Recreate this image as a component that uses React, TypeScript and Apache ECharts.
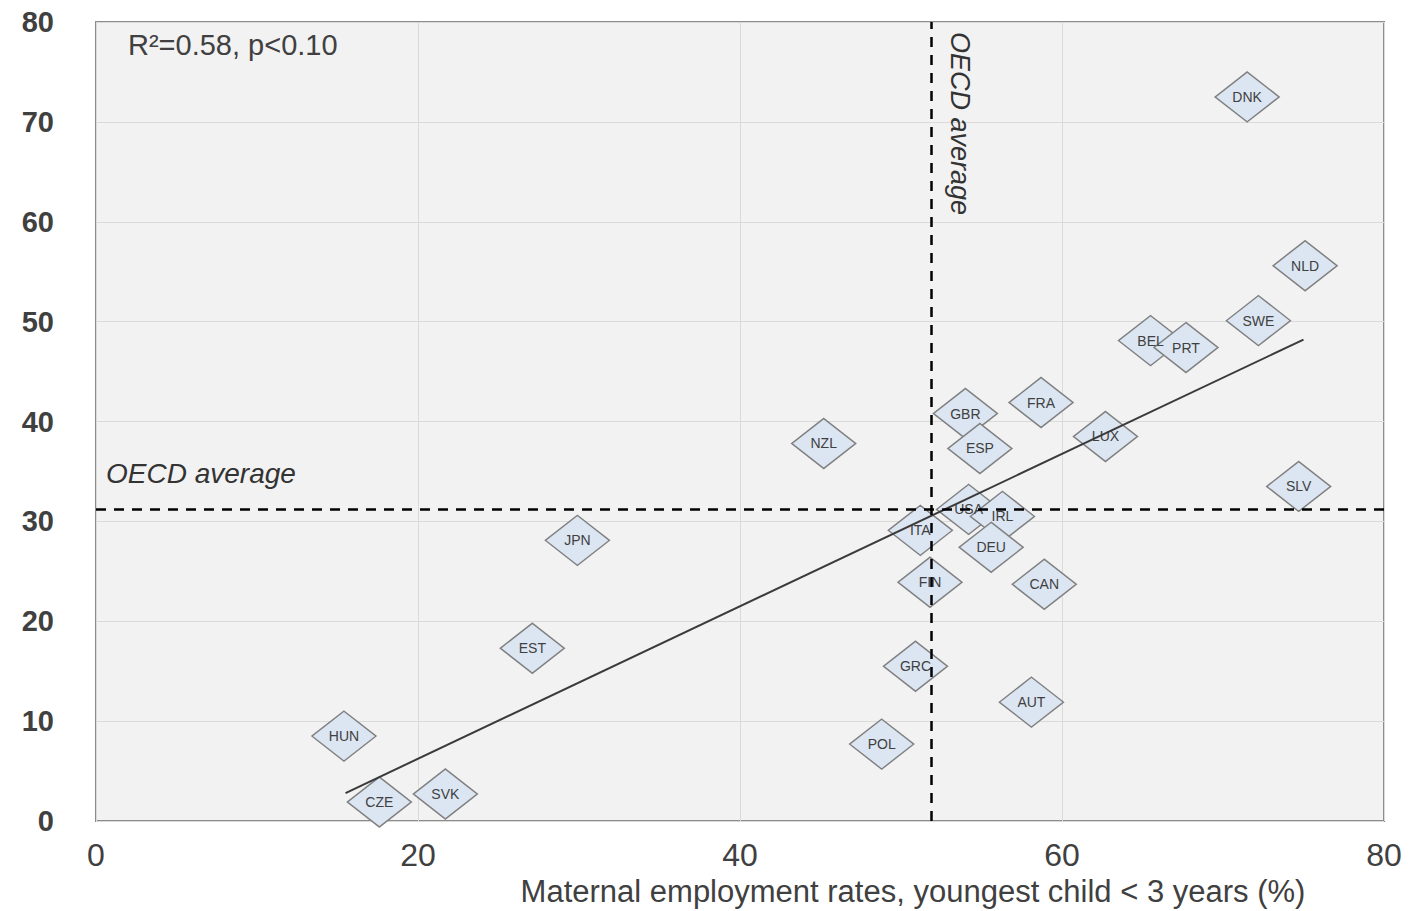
import React, { useEffect, useRef } from "react";
import * as echarts from "echarts";

const countries = ["DNK","NLD","SWE","BEL","PRT","FRA","GBR","ESP","LUX","NZL","SLV","USA","IRL","ITA","DEU","FIN","CAN","JPN","EST","GRC","AUT","POL","HUN","CZE","SVK"];
const employment = [71.5,75.1,72.2,65.5,67.7,58.7,54.0,54.9,62.7,45.2,74.7,54.2,56.3,51.2,55.6,51.8,58.9,29.9,27.1,50.9,58.1,48.8,15.4,17.6,21.7];
const outcome = [72.5,55.6,50.1,48.1,47.4,41.9,40.8,37.3,38.5,37.8,33.5,31.2,30.5,29.1,27.4,23.9,23.7,28.1,17.3,15.5,11.9,7.7,8.5,1.9,2.7];
const trendX = [15.5, 75.0];
const trendY = [2.8, 48.2];
const oecdAvgX = 51.9;
const oecdAvgY = 31.2;
const statText = "R\u00B2=0.58, p<0.10";
const xTitle = "Maternal employment rates, youngest child < 3 years (%)";
const avgLabel = "OECD average";

export default function App() {
  const ref = useRef<HTMLDivElement>(null);
  useEffect(() => {
    document.body.style.margin = "0";
    if (!ref.current) return;
    const chart = echarts.init(ref.current, null, { renderer: "svg" });
    const font = "Liberation Sans, Arial, sans-serif";
    chart.setOption({
      animation: false,
      grid: {
        left: 96, right: 29, top: 22, bottom: 90, outerBoundsMode: "none", containLabel: false,
        show: true, backgroundColor: "#f2f2f2", borderColor: "#8c8c8c", borderWidth: 2,
      },
      xAxis: {
        type: "value", min: 0, max: 80, interval: 20,
        axisLine: { show: false }, axisTick: { show: false },
        splitLine: { show: true, lineStyle: { color: "#dadada", width: 1 } },
        axisLabel: { fontSize: 32, color: "#404040", margin: 18, fontFamily: font },
        name: xTitle, nameLocation: "middle", nameGap: 45,
        nameTextStyle: { fontSize: 31, color: "#404040", fontFamily: font, lineHeight: 32, padding: [0, 0, 0, 346] },
      },
      yAxis: {
        type: "value", min: 0, max: 80, interval: 10,
        axisLine: { show: false }, axisTick: { show: false },
        splitLine: { show: true, lineStyle: { color: "#dadada", width: 1 } },
        axisLabel: { fontSize: 29, color: "#404040", margin: 42, fontFamily: font, fontWeight: "bold" },
      },
      series: [
        {
          type: "line", data: [], z: 1, silent: true,
          markLine: {
            silent: true, symbol: "none", label: { show: false },
            lineStyle: { color: "#000", type: [10, 8], width: 2.5 },
            data: [{ xAxis: oecdAvgX }, { yAxis: oecdAvgY }],
          },
        },
        {
          type: "scatter", z: 2,
          symbol: "diamond", symbolSize: [64, 50],
          itemStyle: { color: "#dce6f2", borderColor: "#808080", borderWidth: 1.5, opacity: 1 },
          label: { show: true, position: "inside", fontSize: 14, color: "#404040", fontFamily: font,
            formatter: (p: any) => countries[p.dataIndex] },
          data: countries.map((c, i) => [employment[i], outcome[i]]),
        },
        {
          type: "line", z: 3, showSymbol: false, silent: true,
          lineStyle: { color: "#3a3a3a", width: 2 },
          data: trendX.map((x, i) => [x, trendY[i]]),
        },
      ],
    });
    const pAvg = chart.convertToPixel({ gridIndex: 0 }, [oecdAvgX, oecdAvgY]) as number[];
    const pTop = chart.convertToPixel({ gridIndex: 0 }, [0, 80]) as number[];
    chart.setOption({
      graphic: [
        { type: "text", x: pTop[0] + 32, y: pTop[1] + 8, z: 10,
          style: { text: statText, fontSize: 29, fill: "#404040", fontFamily: font } },
        { type: "text", x: pTop[0] + 10, y: pAvg[1] - 36, z: 10,
          style: { text: avgLabel, fontSize: 28, fontStyle: "italic", fill: "#333", fontFamily: font, verticalAlign: "middle" } },
        { type: "text", x: pAvg[0] + 28, y: pTop[1] + 10, rotation: -Math.PI / 2, z: 10,
          style: { text: avgLabel, fontSize: 27, fontStyle: "italic", fill: "#333", fontFamily: font, align: "left", verticalAlign: "middle" } },
      ],
    });
    return () => chart.dispose();
  }, []);
  return <div ref={ref} style={{ width: 1413, height: 911 }} />;
}
